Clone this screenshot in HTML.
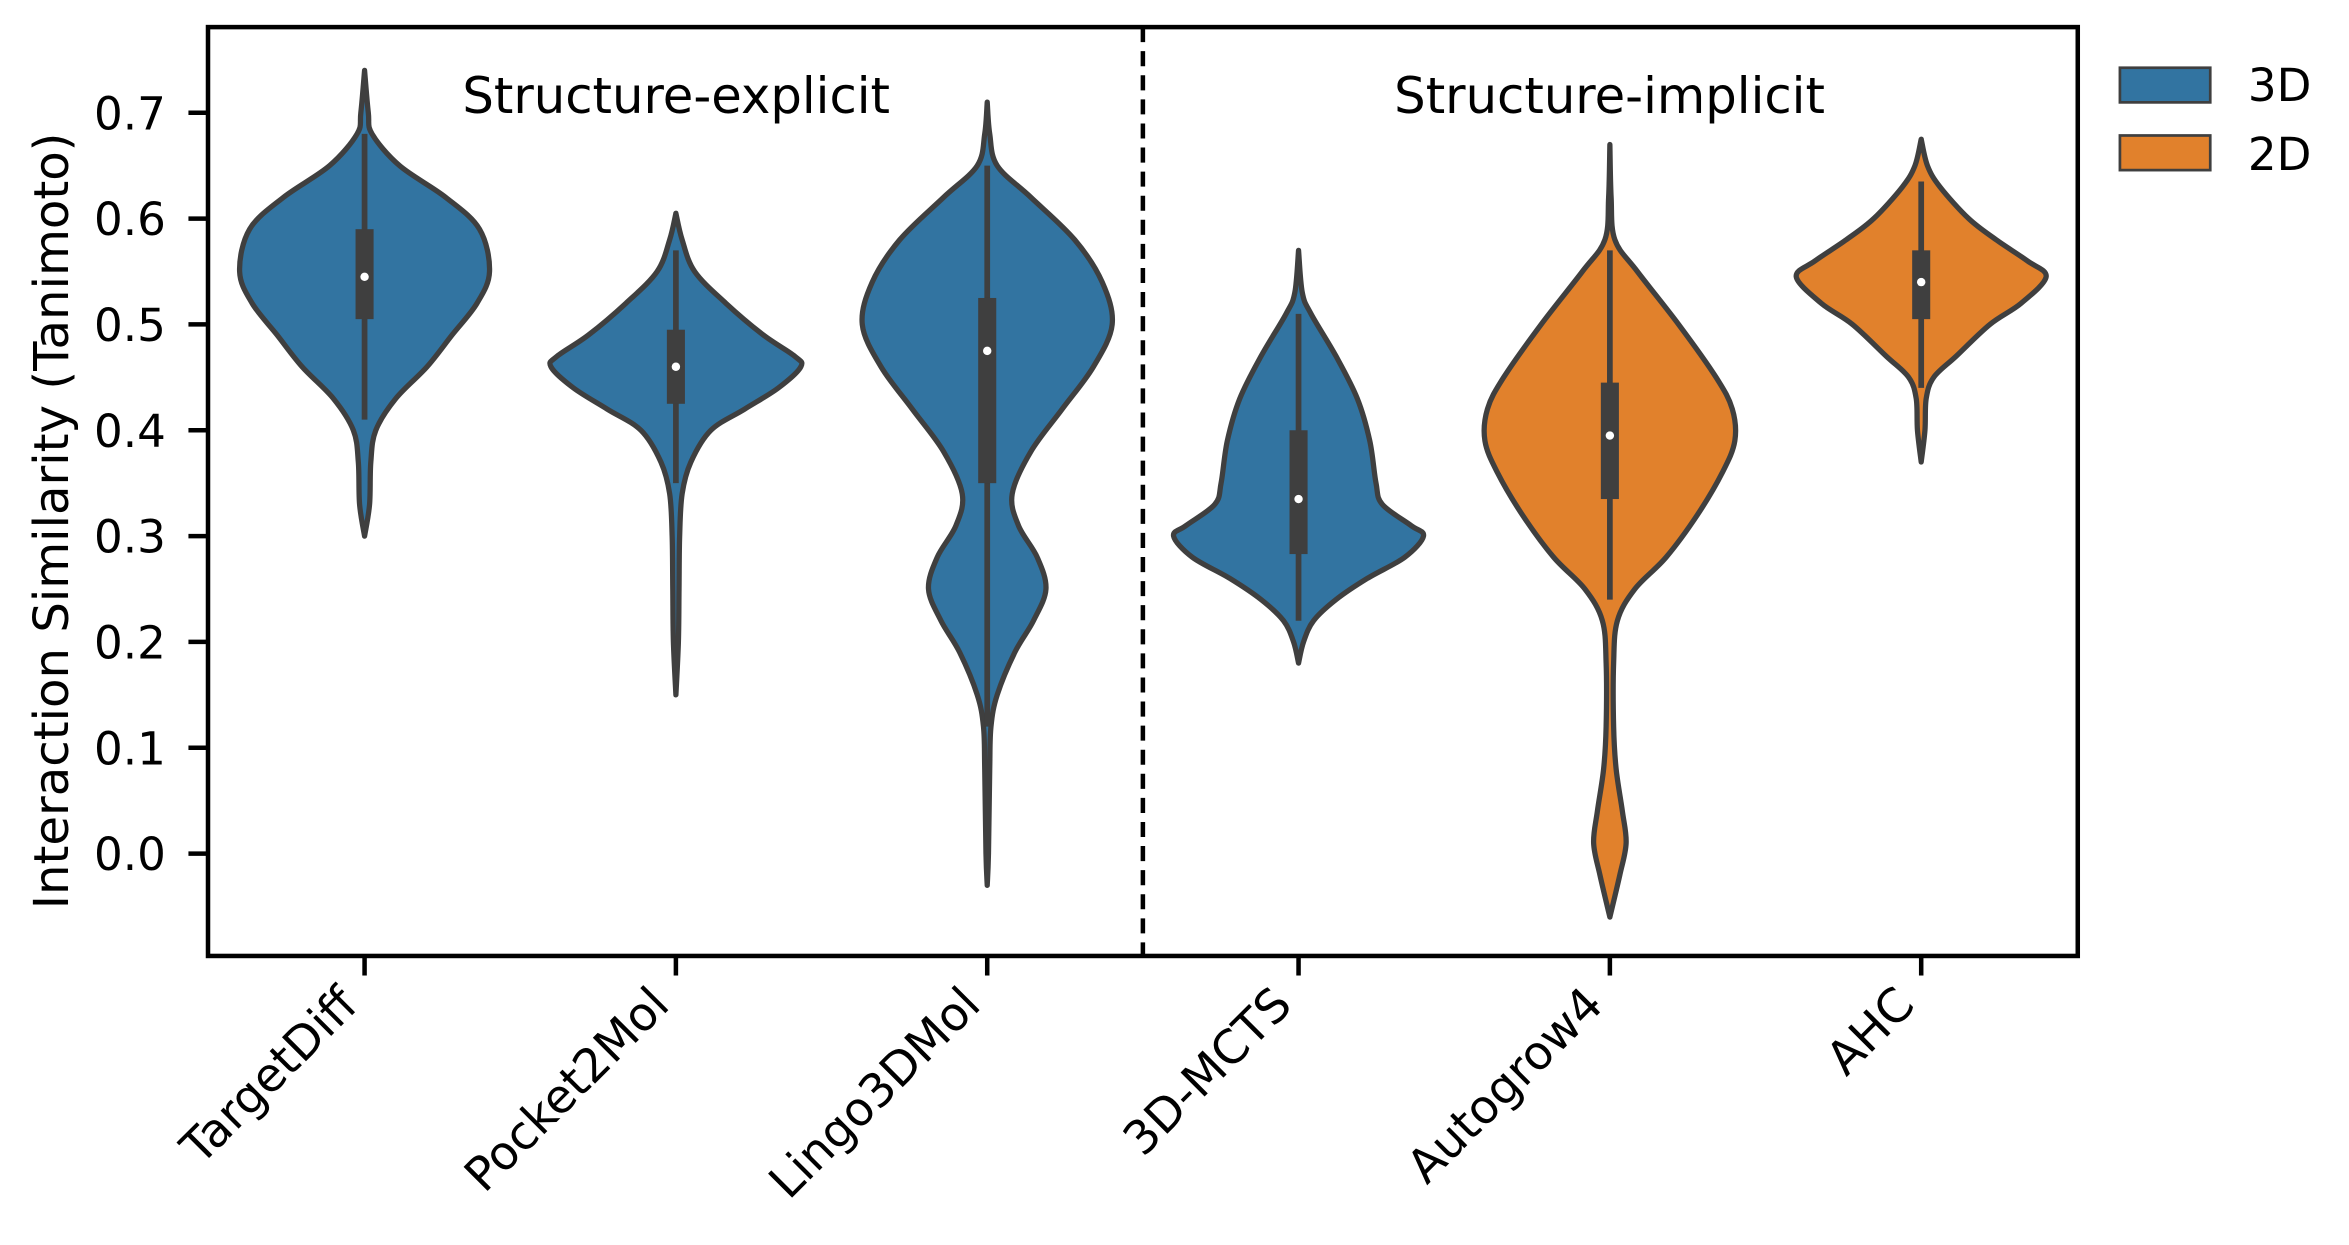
<!DOCTYPE html>
<html><head><meta charset="utf-8"><style>
html,body{margin:0;padding:0;background:#fff;}
svg{display:block;font-family:"DejaVu Sans","Liberation Sans",sans-serif;}
</style></head><body>
<svg id="chart" width="2349" height="1245" viewBox="0 0 1560 827" xmlns="http://www.w3.org/2000/svg">
<g id="plot"></g>
<rect x="138" y="18" width="1242" height="617" fill="none" stroke="#000" stroke-width="3"/>
<line x1="759" y1="18" x2="759" y2="635" stroke="#000" stroke-width="3" stroke-dasharray="10,6"/>
<text x="449" y="75" font-size="33" text-anchor="middle">Structure-explicit</text>
<text x="1069" y="75" font-size="33" text-anchor="middle">Structure-implicit</text>
<text transform="translate(45,346) rotate(-90)" font-size="32" text-anchor="middle">Interaction Similarity (Tanimoto)</text>
<g id="yaxis"></g>
<g id="xaxis"></g>
<g>
<rect x="1408" y="45" width="60" height="23" fill="#3274a1" stroke="#3f3f3f" stroke-width="1.8"/>
<text x="1493" y="67" font-size="30">3D</text>
<rect x="1408" y="90" width="60" height="23" fill="#e1812c" stroke="#3f3f3f" stroke-width="1.8"/>
<text x="1493" y="113" font-size="30">2D</text>
</g>
</svg>
<script>
const categories = ["TargetDiff","Pocket2Mol","Lingo3DMol","3D-MCTS","Autogrow4","AHC"];
const dims = ["3D","3D","3D","3D","2D","2D"];
const yTicks = [0.0,0.1,0.2,0.3,0.4,0.5,0.6,0.7];
const densityValues = [
 [0.74,0.70,0.68,0.65,0.62,0.59,0.55,0.52,0.49,0.46,0.43,0.40,0.37,0.33,0.30],
 [0.605,0.58,0.55,0.52,0.49,0.47,0.46,0.44,0.42,0.40,0.37,0.34,0.30,0.25,0.20,0.15],
 [0.71,0.68,0.65,0.62,0.58,0.54,0.50,0.46,0.42,0.38,0.34,0.31,0.28,0.25,0.22,0.19,0.15,0.12,0.08,0.0,-0.03],
 [0.57,0.53,0.51,0.47,0.43,0.39,0.35,0.33,0.31,0.30,0.28,0.26,0.24,0.22,0.20,0.18],
 [0.67,0.62,0.58,0.55,0.50,0.45,0.42,0.39,0.36,0.32,0.28,0.25,0.22,0.18,0.12,0.08,0.04,0.01,-0.02,-0.06],
 [0.675,0.65,0.63,0.60,0.58,0.56,0.545,0.52,0.50,0.47,0.45,0.43,0.40,0.37]
];
const densityWidths = [
 [0,0.03,0.06,0.28,0.65,0.92,1.0,0.9,0.7,0.5,0.25,0.09,0.05,0.04,0],
 [0,0.05,0.15,0.4,0.7,0.95,1.0,0.82,0.55,0.28,0.12,0.05,0.03,0.025,0.02,0],
 [0,0.02,0.08,0.35,0.7,0.92,1.0,0.85,0.6,0.35,0.2,0.25,0.4,0.47,0.37,0.22,0.08,0.03,0.02,0.01,0],
 [0,0.03,0.1,0.3,0.47,0.57,0.62,0.67,0.9,1.0,0.85,0.55,0.3,0.12,0.04,0],
 [0,0.01,0.04,0.22,0.55,0.85,0.98,1.0,0.9,0.7,0.45,0.2,0.06,0.03,0.03,0.05,0.1,0.13,0.08,0],
 [0,0.05,0.15,0.38,0.6,0.85,1.0,0.8,0.55,0.28,0.1,0.04,0.03,0]
];
const q1 = [0.505,0.425,0.35,0.283,0.335,0.505];
const medians = [0.545,0.46,0.475,0.335,0.395,0.54];
const q3 = [0.59,0.495,0.525,0.40,0.445,0.57];
const whiskerLo = [0.41,0.35,0.12,0.22,0.24,0.44];
const whiskerHi = [0.68,0.57,0.65,0.51,0.57,0.635];

const NS="http://www.w3.org/2000/svg";
const X0=242, DX=206.8, Y0=567, PY=703, HALF=83;
function xScale(i){return X0+i*DX;}
function yScale(v){return Y0-v*PY;}
function mk(tag,attrs,parent){const e=document.createElementNS(NS,tag);for(const k in attrs)e.setAttribute(k,attrs[k]);parent.appendChild(e);return e;}
function smooth(pts){
  let d="M"+pts[0][0]+","+pts[0][1];
  for(let i=0;i<pts.length-1;i++){
    const p0=pts[Math.max(0,i-1)],p1=pts[i],p2=pts[i+1],p3=pts[Math.min(pts.length-1,i+2)];
    const c1=[p1[0]+(p2[0]-p0[0])/6,p1[1]+(p2[1]-p0[1])/6];
    const c2=[p2[0]-(p3[0]-p1[0])/6,p2[1]-(p3[1]-p1[1])/6];
    d+=" C"+c1[0].toFixed(2)+","+c1[1].toFixed(2)+" "+c2[0].toFixed(2)+","+c2[1].toFixed(2)+" "+p2[0].toFixed(2)+","+p2[1].toFixed(2);
  }
  return d;
}
const plot=document.getElementById('plot');
categories.forEach((c,i)=>{
  const cx=xScale(i);
  const right=densityValues[i].map((v,j)=>[cx+densityWidths[i][j]*HALF,yScale(v)]);
  const left=densityValues[i].map((v,j)=>[cx-densityWidths[i][j]*HALF,yScale(v)]).reverse();
  const d=smooth(right)+" L"+smooth(left).slice(1)+" Z";
  const p=mk('path',{d:d,fill:dims[i]==="3D"?"#3274a1":"#e1812c",stroke:"#3f3f3f","stroke-width":3.5,"stroke-linejoin":"round"},plot);
  
  
  const w=mk('line',{x1:cx,x2:cx,y1:yScale(whiskerHi[i]),y2:yScale(whiskerLo[i]),stroke:"#3f3f3f","stroke-width":3.8},plot);
  
  
  const b=mk('rect',{x:cx-6,width:12,y:yScale(q3[i]),height:yScale(q1[i])-yScale(q3[i]),fill:"#3f3f3f"},plot);
  
  
  const m=mk('circle',{cx:cx,cy:yScale(medians[i]),r:2.8,fill:"#fff"},plot);
  
  
});
const ya=document.getElementById('yaxis');
yTicks.forEach(t=>{
  const y=yScale(t);
  const l=mk('line',{x1:125,x2:138,y1:y,y2:y,stroke:"#000","stroke-width":3},ya);
  
  
  const tx=mk('text',{x:110,y:y+11,"font-size":30,"text-anchor":"end"},ya);
  tx.textContent=t.toFixed(1);
  
  
});
const xa=document.getElementById('xaxis');
categories.forEach((c,i)=>{
  const x=xScale(i);
  const l=mk('line',{x1:x,x2:x,y1:635,y2:648,stroke:"#000","stroke-width":3},xa);
  
  
  const tx=mk('text',{transform:"translate("+(x-3)+",669) rotate(-45)","font-size":31,"text-anchor":"end"},xa);
  tx.textContent=c;
  
  
});
</script>
</body></html>
